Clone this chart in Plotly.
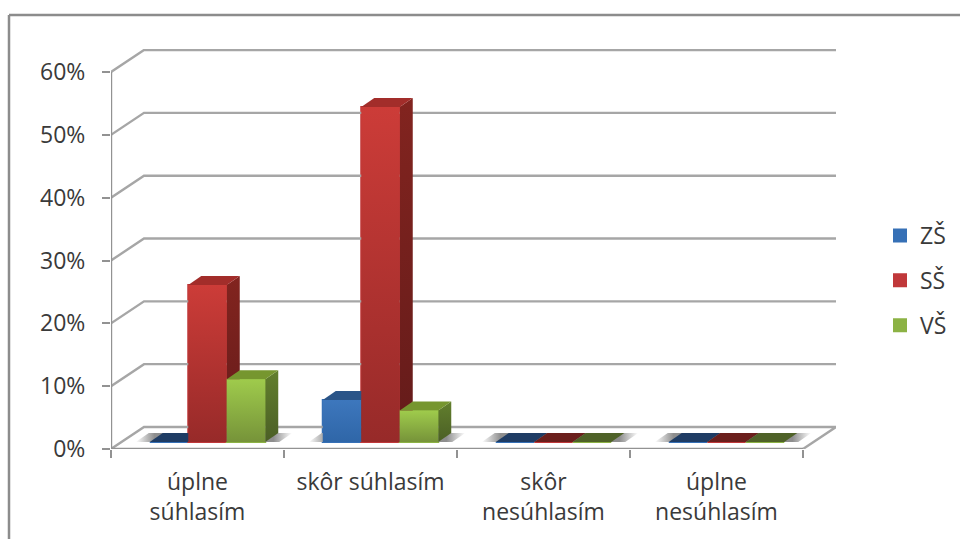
import plotly.graph_objects as go

# ---- data ----
categories = ["úplne<br>súhlasím", "skôr súhlasím", "skôr<br>nesúhlasím", "úplne<br>nesúhlasím"]
series_names = ["ZŠ", "SŠ", "VŠ"]
zs_values = [0, 6.67, 0, 0]
ss_values = [25, 53.33, 0, 0]
vs_values = [10, 5, 0, 0]
y_ticks = [0, 10, 20, 30, 40, 50, 60]

# ---- styling / pseudo-3D geometry (axis units) ----
W, H = 960, 539
L, R, T, B = 111, 836, 49, 449      # plot area in px
PX_X = 173.0                        # px per category
PX_Y = 62.83 / 10                   # px per percent
def ux(px): return px / PX_X
def uy(px): return px / PX_Y
WALL_X, WALL_Y = ux(33), uy(22)     # floor depth
FRONT_X, FRONT_Y = ux(10), uy(7)    # bar front plane offset
DEPTH_X, DEPTH_Y = ux(13), uy(9)    # bar depth
BAR_W = ux(38.5)
X_MAX = (R - L) / PX_X
Y_MAX = (B - T) / PX_Y

GRID = "#a6a6a6"
AXIS = "#929292"
TEXT = "#3a3a3a"
FONT = "Open Sans"
FS = 23
front_colors = [("#3d77bd", "#2f66a8"), ("#cc3c38", "#972a29"), ("#9fcb4c", "#769339")]
solid_colors = ["#3670b6", "#c0383a", "#8cb244"]
top_colors = ["#2a5488", "#a22d2a", "#76962f"]
zero_colors = ["#1f3c64", "#6b1f1c", "#4f6228"]
side_colors = [("#275080", "#1f3f66"), ("#82241f", "#641b1a"), ("#627f2d", "#4b5f25")]

series_values = [zs_values, ss_values, vs_values]
fig = go.Figure()

# legend-carrying real bars (front faces)
for j, (name, vals) in enumerate(zip(series_names, series_values)):
    xs = [i + 0.5 + FRONT_X + (j - 1) * BAR_W for i in range(len(vals))]
    fig.add_trace(go.Bar(
        x=xs, y=vals, base=[FRONT_Y] * len(vals), width=BAR_W, name=name,
        marker=dict(color=solid_colors[j], line=dict(color=solid_colors[j], width=2)),
        legendgroup=name, hoverinfo="skip"))

def poly(xs, ys, color=None, grad=None):
    xs, ys = list(xs) + [xs[0]], list(ys) + [ys[0]]
    kw = dict(x=xs, y=ys, mode="lines", line=dict(width=0), fill="toself",
              showlegend=False, hoverinfo="skip")
    if grad:
        kw["fillgradient"] = grad
        kw["fillcolor"] = None
    else:
        kw["fillcolor"] = color
    fig.add_trace(go.Scatter(**kw))

def line(xs, ys, color=GRID, width=2.4):
    fig.add_trace(go.Scatter(x=xs, y=ys, mode="lines", line=dict(color=color, width=width),
                             showlegend=False, hoverinfo="skip"))

def vgrad(top, bottom):
    return dict(type="vertical", colorscale=[[0, bottom], [1, top]])

# gridlines on walls
for v in y_ticks[1:]:
    line([0, WALL_X, X_MAX], [v, v + WALL_Y, v + WALL_Y])
# floor
line([0, WALL_X, X_MAX, 4], [0, WALL_Y, WALL_Y, 0])
line([0, 0], [0, 60], color=AXIS)
line([0, 4], [0, 0], color=AXIS)

# floor shadows
for i in range(len(categories)):
    x0 = i + 0.5 + FRONT_X - 1.5 * BAR_W
    x1 = i + 0.5 + FRONT_X + 1.5 * BAR_W + DEPTH_X
    pad = ux(14)
    y0, y1 = FRONT_Y, FRONT_Y + DEPTH_Y
    grad = dict(type="horizontal", colorscale=[[0, "#ffffff"], [0.12, "#8e8e8e"], [0.88, "#8e8e8e"], [1, "#ffffff"]])
    poly([x0 - pad, x1 - DEPTH_X + pad, x1 + pad, x0 - pad + DEPTH_X],
         [y0, y0, y1, y1], grad=grad)

# 3D bars painted left to right
for i in range(len(categories)):
    for j in range(len(series_names)):
        v = series_values[j][i]
        x0 = i + 0.5 + FRONT_X + (j - 1.5) * BAR_W
        x1 = x0 + BAR_W
        base = FRONT_Y
        top = base + v
        if v > 0:
            poly([x1, x1 + DEPTH_X, x1 + DEPTH_X, x1],
                 [base, base + DEPTH_Y, top + DEPTH_Y, top], grad=vgrad(*side_colors[j]))
            poly([x0, x1, x1 + DEPTH_X, x0 + DEPTH_X],
                 [top, top, top + DEPTH_Y, top + DEPTH_Y], color=top_colors[j])
            poly([x0, x1, x1, x0], [base, base, top, top], grad=vgrad(*front_colors[j]))
        else:
            poly([x0, x1, x1 + DEPTH_X, x0 + DEPTH_X],
                 [top, top, top + DEPTH_Y, top + DEPTH_Y], color=zero_colors[j])

fig.update_layout(
    width=W, height=H, autosize=False,
    margin=dict(l=L, r=W - R, t=T, b=H - B, pad=0, autoexpand=False),
    paper_bgcolor="white", plot_bgcolor="white",
    font=dict(family=FONT, size=FS, color=TEXT),
    barmode="overlay",
    legend=dict(x=(880 - L) / (R - L), xanchor="left", y=1 - (214 - T) / (B - T),
                yanchor="top", tracegroupgap=12,
                font=dict(family=FONT, size=FS, color=TEXT), bgcolor="rgba(0,0,0,0)"),
    xaxis=dict(range=[0, X_MAX], showgrid=False, zeroline=False, showline=False,
               tickmode="array", tickvals=[i + 0.5 for i in range(4)], ticktext=categories,
               ticks="", ticklabelstandoff=17,
               tickfont=dict(family=FONT, size=FS, color=TEXT),
               minor=dict(tickmode="array", tickvals=[0, 1, 2, 3, 4], ticks="outside",
                          ticklen=8, tickwidth=2, tickcolor=AXIS)),
    yaxis=dict(range=[0, Y_MAX], showgrid=False, zeroline=False, showline=False,
               tickmode="array", tickvals=y_ticks, ticktext=[f"{v}%" for v in y_ticks],
               ticks="outside", ticklen=8, tickwidth=2, tickcolor=AXIS, ticklabelstandoff=12,
               tickfont=dict(family=FONT, size=FS, color=TEXT)),
    shapes=[
        dict(type="line", xref="paper", yref="paper",
             x0=(9 - L) / (R - L), x1=(W + 5 - L) / (R - L),
             y0=(B - 15) / (B - T), y1=(B - 15) / (B - T),
             line=dict(color="#8c8c8c", width=2.5)),
        dict(type="line", xref="paper", yref="paper",
             x0=(9 - L) / (R - L), x1=(9 - L) / (R - L),
             y0=(B - H - 5) / (B - T), y1=(B - 15) / (B - T),
             line=dict(color="#8c8c8c", width=2.5)),
    ],
)
fig.write_html("out.html", config={"displayModeBar": False},
               post_script="document.body.style.margin='0';")
